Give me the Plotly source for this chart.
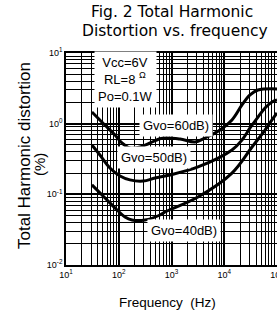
import plotly.graph_objects as go

# ---- data ----
freq_60 = [31, 52, 85, 115, 163, 253, 391, 690, 1450, 2790, 4310, 8300, 14000, 21700, 30800, 43600, 100000]
thd_60 = [1.46, 0.99, 0.69, 0.533, 0.453, 0.468, 0.533, 0.627, 0.607, 0.551, 0.627, 0.813, 1.13, 1.84, 2.55, 2.99, 3.10]

freq_50 = [31, 44, 68, 106, 163, 289, 487, 937, 3180, 14000, 21700, 30800, 43600, 59300, 80400, 100000]
thd_50 = [0.499, 0.360, 0.236, 0.182, 0.160, 0.154, 0.170, 0.188, 0.244, 0.424, 0.588, 0.869, 1.24, 1.67, 2.03, 2.16]

freq_40 = [31, 55, 93, 131, 178, 315, 605, 753, 3180, 14000, 33600, 59300, 80400, 100000]
thd_40 = [0.136, 0.0887, 0.060, 0.0478, 0.0434, 0.0434, 0.051, 0.0562, 0.0917, 0.200, 0.468, 0.813, 1.13, 1.42]

x_tickvals = [10, 100, 1000, 10000, 100000]
x_ticktext = ["10<sup>1</sup>", "10<sup>2</sup>", "10<sup>3</sup>", "10<sup>4</sup>", "10<sup>5</sup>"]
y_tickvals = [0.01, 0.1, 1, 10]
y_ticktext = ["10<sup>-2</sup>", "10<sup>-1</sup>", "10<sup>0</sup>", "10<sup>1</sup>"]

FONT = "Liberation Sans, Arial, sans-serif"
WIDE = "DejaVu Sans, sans-serif"

fig = go.Figure()
for f, t in [(freq_60, thd_60), (freq_50, thd_50), (freq_40, thd_40)]:
    fig.add_trace(go.Scatter(x=f, y=t, mode="lines",
                             line=dict(color="black", width=3, shape="spline", smoothing=1),
                             showlegend=False, hoverinfo="skip"))

fig.update_xaxes(type="log", range=[1, 5], tickmode="array", tickvals=x_tickvals, ticktext=x_ticktext,
                 showgrid=True, gridcolor="black", gridwidth=1.6, ticklabeloverflow="allow", automargin=False,
                 minor=dict(tickmode="linear", dtick="D1", showgrid=True, gridcolor="black", gridwidth=1, ticks=""),
                 showline=True, linecolor="black", linewidth=1.5, mirror=True, ticks="",
                 tickfont=dict(family=FONT, size=9, color="black"), zeroline=False)
fig.update_yaxes(type="log", range=[-2, 1], tickmode="array", tickvals=y_tickvals, ticktext=y_ticktext,
                 showgrid=True, gridcolor="black", gridwidth=1.6, ticklabeloverflow="allow", automargin=False,
                 minor=dict(tickmode="linear", dtick="D1", showgrid=True, gridcolor="black", gridwidth=1, ticks=""),
                 showline=True, linecolor="black", linewidth=1.5, mirror=True, ticks="",
                 tickfont=dict(family=FONT, size=9, color="black"), zeroline=False)

ann = []
def a(text, x, y, size, family=FONT, **kw):
    d = dict(text=text, x=x, y=y, xref="paper", yref="paper", showarrow=False,
             font=dict(family=family, size=size, color="black"), xanchor="center", yanchor="middle")
    d.update(kw)
    ann.append(d)

a("Fig. 2 Total Harmonic", 0.502, 1.193, 15.5, WIDE)
a("Distortion vs. frequency", 0.517, 1.106, 15.5, WIDE)
a("Total Harmonic distortion", -0.199, 0.514, 17, textangle=-90)
a("(%)", -0.123, 0.472, 15, textangle=-90)
a("Frequency  (Hz)", 0.483, -0.175, 13.5)
a("Vcc=6V<br>RL=8 <sup>Ω</sup><br>Po=0.1W", 0.284, 0.877, 13, bgcolor="white", borderpad=3)
a("Gvo=60dB)", 0.521, 0.660, 13, bgcolor="white", borderpad=3)
a("Gvo=50dB)", 0.415, 0.509, 13, bgcolor="white", borderpad=3)
a("Gvo=40dB)", 0.557, 0.165, 13, bgcolor="white", borderpad=3)

fig.update_layout(width=277, height=313, margin=dict(l=66, r=0, t=53, b=48, autoexpand=False),
                  paper_bgcolor="white", plot_bgcolor="white", annotations=ann,
                  font=dict(family=FONT, color="black"))
fig.write_html("out.html", config={"displayModeBar": False},
               post_script="document.body.style.margin='0';document.body.style.overflow='hidden';")
